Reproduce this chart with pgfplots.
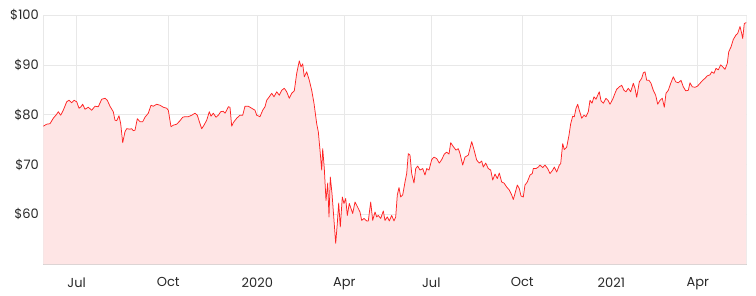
\documentclass[border=0pt]{standalone}
\usepackage{pgfplots}
\pgfplotsset{compat=1.18}
\usepackage{pgfplotstable}
\usepackage{fontspec}
\setmainfont{Poppins}
\definecolor{linered}{RGB}{255,35,35}
\definecolor{fillred}{RGB}{254,229,229}
\definecolor{gridc}{RGB}{232,232,232}
\definecolor{labc}{RGB}{40,40,40}
\pgfplotstableread{
x y
43.3 77.7
46.7 78.1
50 78.2
53.3 79.3
56.7 80.1
58.3 80.6
60.7 79.9
63.3 80.9
66.7 82.6
69 82.9
71.7 82.4
74 82.9
76.7 82.6
79 81.3
81 81.6
82.7 82.1
85 81.1
88.3 81.5
91.7 80.9
95 81.7
98.3 81.6
101.7 83.1
105 83.3
107.3 82.9
110 81.7
113.3 80.6
115 78.9
116.7 78.8
119 79.8
120.7 78.2
122.7 74.4
125 76.6
126.7 77.2
130 77.1
131.7 77.2
133.3 76.8
135 76.9
137.3 79.2
140 78.6
142.7 78.6
145 79.5
148.3 80.3
151 81.9
153.3 81.7
156.7 82.1
160 81.9
163.3 81.5
166.7 81.3
168.3 80.9
171 77.6
173.3 77.9
176.7 78.1
180 78.8
182.7 79.5
185 79.6
188.3 79.6
191.7 79.9
195 80.3
197.3 79.9
200 78.2
201.7 77.2
204 77.9
206.7 78.9
209.3 80.6
211 79.7
213.3 80.3
216 79.5
218.3 79.9
220.7 80.6
223.3 80.7
225 80.3
226.7 80.9
228.3 81.6
230 81.5
231.7 77.7
233.3 78.4
236.7 79.3
240 79.9
242.7 79.9
245 81.7
248.3 81.7
251.7 81.3
255 80.9
256.7 79.9
260 79.6
262.7 80.9
265 81.6
266.7 82.9
269.3 83.6
271.7 84.3
274 83.6
276.7 84.6
279.3 83.9
281.7 84.9
284.3 85.3
286.7 84.6
289.3 83.3
291.7 84.3
294.3 84.8
296.7 88.3
299.3 90.8
301 89.6
302.7 90.2
304.3 87.6
306.7 88.6
309.3 86.9
311.7 84.9
314 82.3
316.7 78.2
318.3 76.6
320 72.9
321.7 68.9
322.7 73.2
324.3 69.2
326 62.8
327.7 66.3
329 59.5
330.3 67.5
332 64.2
334 58.8
335.7 54.2
337.3 58.2
338.7 62.3
340.3 57.5
342.3 63.5
344 62.2
345.7 63.2
347.3 59.8
349.3 62.2
351 61.2
352.7 60.2
355 62.5
357.3 61.6
360 60.5
361.7 58.8
364 59.2
366.7 58.7
368.3 58.7
370.7 62.5
372.7 58.8
375 60.5
376.7 59.5
378.3 59.8
380.7 59.2
383.3 60.7
385 58.8
387.3 59.5
389.3 58.7
391.7 59.8
394 58.7
395.7 59.5
397.3 63.9
399 65.4
400.7 63.5
402.7 63.9
405 66.5
406.7 68.2
408.3 72.2
410 71.9
411.7 68.2
414 66.3
415.7 69.2
417.7 69.7
420 68.9
422.7 69.2
425 67.9
426.7 69.2
429 68.9
431.7 71.0
434 71.5
436.7 71.2
439.3 70.3
441.7 71.0
444.3 72.1
446.7 72.5
449 72.1
450.7 74.4
453.3 73.6
456 72.9
458.3 73.2
460 72.2
462.7 69.9
465 71.5
468.3 71.9
471.7 74.6
474 73.0
476.7 70.9
479.3 70.3
481.7 70.7
483.3 69.5
485.7 70.3
488.3 69.2
490.7 68.9
492.7 66.9
495 68.1
497.3 67.2
499.3 68.3
501.7 66.5
504 66.3
506.7 65.5
509.3 64.9
511.7 63.9
513.3 63.0
515 64.2
517.3 65.9
519.3 65.2
521 63.7
523.3 63.5
525 65.9
527.3 66.5
530 67.9
532.3 68.2
533.3 69.2
536 69.2
538.3 69.5
540 69.9
542.7 69.4
545 69.9
547.7 69.2
550 68.2
552.7 68.9
554.3 69.5
556.7 68.5
559.3 69.9
560.7 70.2
562.7 74.2
564.3 73.0
566.7 73.5
569 75.9
570.7 78.2
572.7 79.7
574.3 79.6
576 81.3
577.7 82.1
579.3 80.9
581.7 79.3
584 79.9
586 79.6
588.3 80.6
590 82.9
592 82.3
594 83.6
596 83.1
597.7 83.9
599.3 84.6
601 82.8
603.3 82.3
606 83.3
608.3 82.8
610 82.1
612.7 83.1
615 84.3
616.7 85.1
619.3 85.6
621.7 85.9
624 84.9
626 84.6
628.3 85.3
630.7 84.6
633.3 86.3
635 85.3
636.7 83.5
639.3 86.6
641.7 87.3
643.3 88.4
645 88.6
646.7 86.9
649 86.9
651 86.3
653.3 84.9
655.7 83.9
657.7 82.1
660 82.9
662.3 83.3
664.3 81.5
666 84.3
668.3 84.9
670.7 86.3
673.3 87.6
675.7 86.6
678.3 86.4
681 86.9
683.3 85.6
685.7 84.8
688.3 84.9
690 86.4
692.3 85.6
695 85.5
697.3 85.7
700 86.3
702.7 86.9
705 87.3
707.3 87.8
710 88.0
711.7 88.6
714 88.3
716 89.3
718.3 89.0
720.7 90.0
722.7 89.6
725 89.1
727.3 90.3
728.7 92.6
731 93.6
733.3 95.1
736 96.0
737.7 96.3
740 97.7
741.7 96.3
742.7 95.3
744.3 98.3
746.7 98.5
}\pricedata
\begin{document}
\begin{tikzpicture}
\useasboundingbox (-43.3pt,-30.7pt) rectangle (712.7pt,264.3pt);
\begin{axis}[
  at={(0pt,0pt)}, anchor=south west,
  scale only axis,
  width=703.4pt, height=249.3pt,
  xmin=43.3, xmax=746.7,
  ymin=50, ymax=100,
  axis x line*=bottom,
  axis y line*=left,
  separate axis lines,
  x axis line style={draw=black!20},
  y axis line style={draw=gridc},
  xtick={76.7,168.3,257.3,344.3,431.3,522.3,611.3,697.7},
  xticklabels={Jul,Oct,2020,Apr,Jul,Oct,2021,Apr},
  ytick={60,70,80,90,100},
  yticklabels={\$60,\$70,\$80,\$90,\$100},
  major tick length=0pt,
  grid=major,
  major grid style={draw=gridc, line width=0.6pt},
  tick label style={font=\fontsize{13}{15}\selectfont, text=labc},
  xticklabel style={yshift=-10pt},
  yticklabel style={xshift=-1pt},
  /pgf/number format/assume math mode=true,
  clip=true,
]
\addplot[draw=none, fill=fillred] table {\pricedata} \closedcycle;
\addplot[linered, line width=0.75pt, line join=round] table {\pricedata};
\draw[gridc, line width=0.6pt] (axis cs:746.7,50) -- (axis cs:746.7,100);
\end{axis}
\end{tikzpicture}
\end{document}
